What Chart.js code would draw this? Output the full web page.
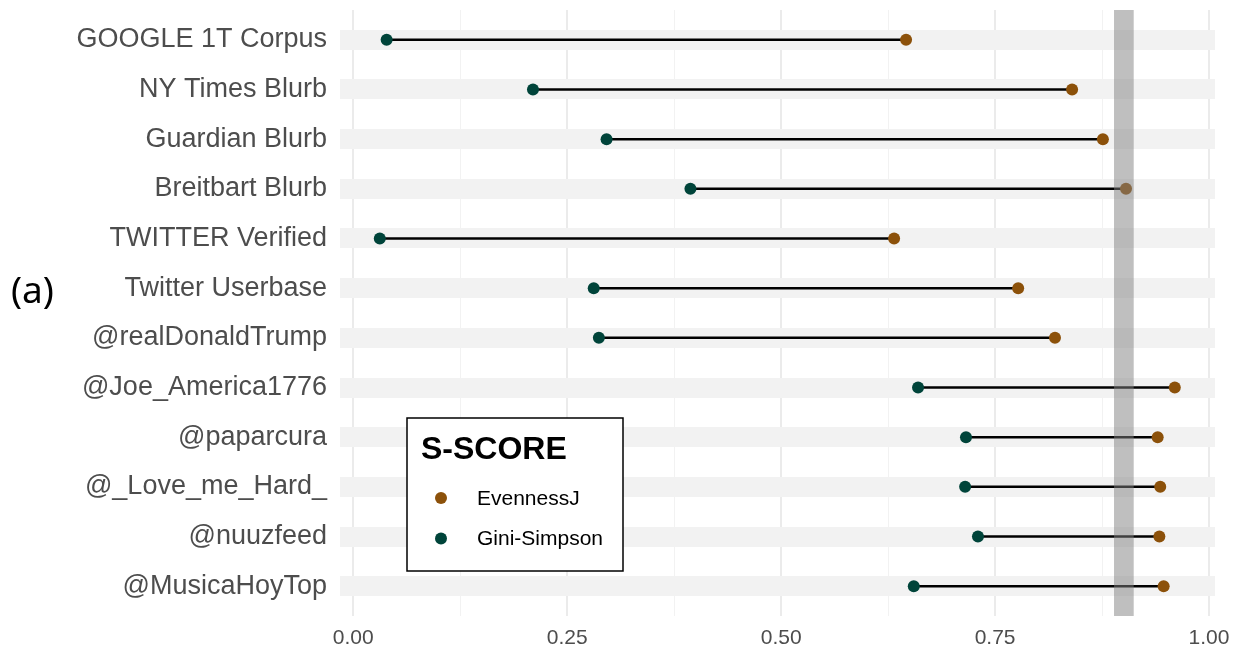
<!DOCTYPE html>
<html>
<head>
<meta charset="utf-8">
<script src="https://cdn.jsdelivr.net/npm/chart.js@4.4.1/dist/chart.umd.min.js"></script>
<style>
  html, body { margin: 0; padding: 0; background: #fff; }
  #wrap { width: 1238px; height: 652px; }
</style>
</head>
<body>
<div id="wrap"><canvas id="c" width="1238" height="652"></canvas></div>
<script>
// data
var categories = [
  'GOOGLE 1T Corpus', 'NY Times Blurb', 'Guardian Blurb', 'Breitbart Blurb',
  'TWITTER Verified', 'Twitter Userbase', '@realDonaldTrump', '@Joe_America1776',
  '@paparcura', '@_Love_me_Hard_', '@nuuzfeed', '@MusicaHoyTop'
];
var evennessJ   = [0.646, 0.840, 0.876, 0.903, 0.632, 0.777, 0.820, 0.960, 0.940, 0.943, 0.942, 0.947];
var giniSimpson = [0.039, 0.210, 0.296, 0.394, 0.031, 0.281, 0.287, 0.660, 0.716, 0.715, 0.730, 0.655];
var seriesNames = ['EvennessJ', 'Gini-Simpson'];
var xTicks      = [0, 0.125, 0.25, 0.375, 0.5, 0.625, 0.75, 0.875, 1];
var xTickLabels = ['0.00', '', '0.25', '', '0.50', '', '0.75', '', '1.00'];
var band = [0.889, 0.912];
var legendTitle = 'S-SCORE';
var panelLabel = '(a)';

var brown = '#8c510a';
var green = '#00443a';

Chart.defaults.font.family = "'Liberation Sans', Arial, sans-serif";

function points(values) {
  return values.map(function (v, i) { return { x: v, y: i + 1 }; });
}

var segments = giniSimpson.map(function (g, i) {
  return { x: [g, evennessJ[i]], y: i + 1 };
});

// grey band on top of the points, plus the legend box and the (a) label
var extras = {
  id: 'extras',
  afterDatasetsDraw: function (chart) {
    var ctx = chart.ctx, xs = chart.scales.x, area = chart.chartArea;
    var x0 = xs.getPixelForValue(band[0]);
    var x1 = xs.getPixelForValue(band[1]);
    ctx.save();
    ctx.fillStyle = 'rgba(128,128,128,0.5)';
    ctx.fillRect(x0, area.top, x1 - x0, area.bottom - area.top);
    ctx.restore();
  },
  afterDraw: function (chart) {
    var ctx = chart.ctx;
    ctx.save();
    // legend
    ctx.fillStyle = '#fff';
    ctx.fillRect(407, 418, 216, 153);
    ctx.strokeStyle = '#000';
    ctx.lineWidth = 1.5;
    ctx.strokeRect(407, 418, 216, 153);
    ctx.fillStyle = '#000';
    ctx.font = "bold 32px 'Liberation Sans', Arial, sans-serif";
    ctx.textBaseline = 'alphabetic';
    ctx.fillText(legendTitle, 421, 459);
    var cols = [brown, green];
    ctx.font = "21px 'Liberation Sans', Arial, sans-serif";
    ctx.textBaseline = 'middle';
    for (var i = 0; i < seriesNames.length; i++) {
      var cy = 498 + i * 40.5;
      ctx.fillStyle = cols[i];
      ctx.beginPath();
      ctx.arc(441, cy, 6, 0, Math.PI * 2);
      ctx.fill();
      ctx.fillStyle = '#000';
      ctx.fillText(seriesNames[i], 477, cy + 1);
    }
    // panel label
    ctx.font = "37px 'Noto Sans', 'Open Sans', sans-serif";
    ctx.fillStyle = '#000';
    ctx.textBaseline = 'middle';
    ctx.fillText(panelLabel, 11, 292);
    ctx.restore();
  }
};

var chart = new Chart(document.getElementById('c'), {
  type: 'bar',
  data: {
    datasets: [
      {
        type: 'line', label: seriesNames[0], data: points(evennessJ),
        showLine: false, pointRadius: 6, pointHoverRadius: 6,
        pointBackgroundColor: brown, pointBorderWidth: 0, order: 1
      },
      {
        type: 'line', label: seriesNames[1], data: points(giniSimpson),
        showLine: false, pointRadius: 6, pointHoverRadius: 6,
        pointBackgroundColor: green, pointBorderWidth: 0, order: 2
      },
      {
        type: 'bar', label: 'range', data: segments,
        backgroundColor: '#000', borderWidth: 0, barThickness: 1.8, order: 3
      }
    ]
  },
  options: {
    responsive: false,
    animation: false,
    indexAxis: 'y',
    layout: { padding: { top: 10, right: 23, bottom: 0, left: 0 } },
    plugins: { legend: { display: false }, tooltip: { enabled: false } },
    scales: {
      x: {
        type: 'linear', min: -0.0155, max: 1.007,
        afterBuildTicks: function (s) { s.ticks = xTicks.map(function (v) { return { value: v }; }); },
        afterFit: function (s) { s.height = 36; s.paddingLeft = 0; s.paddingRight = 0; },
        border: { display: false },
        grid: {
          drawTicks: false,
          color: function (c) { return xTickLabels[xTicks.indexOf(c.tick.value)] ? '#ebebeb' : '#f2f2f2'; },
          lineWidth: function (c) { return xTickLabels[xTicks.indexOf(c.tick.value)] ? 2 : 1; }
        },
        ticks: {
          autoSkip: false, maxRotation: 0, padding: 10,
          color: '#4d4d4d', font: { size: 21 },
          callback: function (v) { return xTickLabels[xTicks.indexOf(v)]; }
        }
      },
      y: {
        type: 'linear', min: 0.4, max: 12.6, reverse: true, offset: false, z: -1,
        afterBuildTicks: function (s) { s.ticks = categories.map(function (c, i) { return { value: i + 1 }; }); },
        afterFit: function (s) { s.width = 340; s.paddingTop = 0; s.paddingBottom = 0; },
        border: { display: false },
        grid: { offset: false, drawTicks: false, color: '#f2f2f2', lineWidth: 20 },
        ticks: {
          autoSkip: false, padding: 13, color: '#4d4d4d', font: { size: 27 },
          callback: function (v) { return categories[v - 1]; }
        }
      }
    }
  },
  plugins: [extras]
});
</script>
</body>
</html>
